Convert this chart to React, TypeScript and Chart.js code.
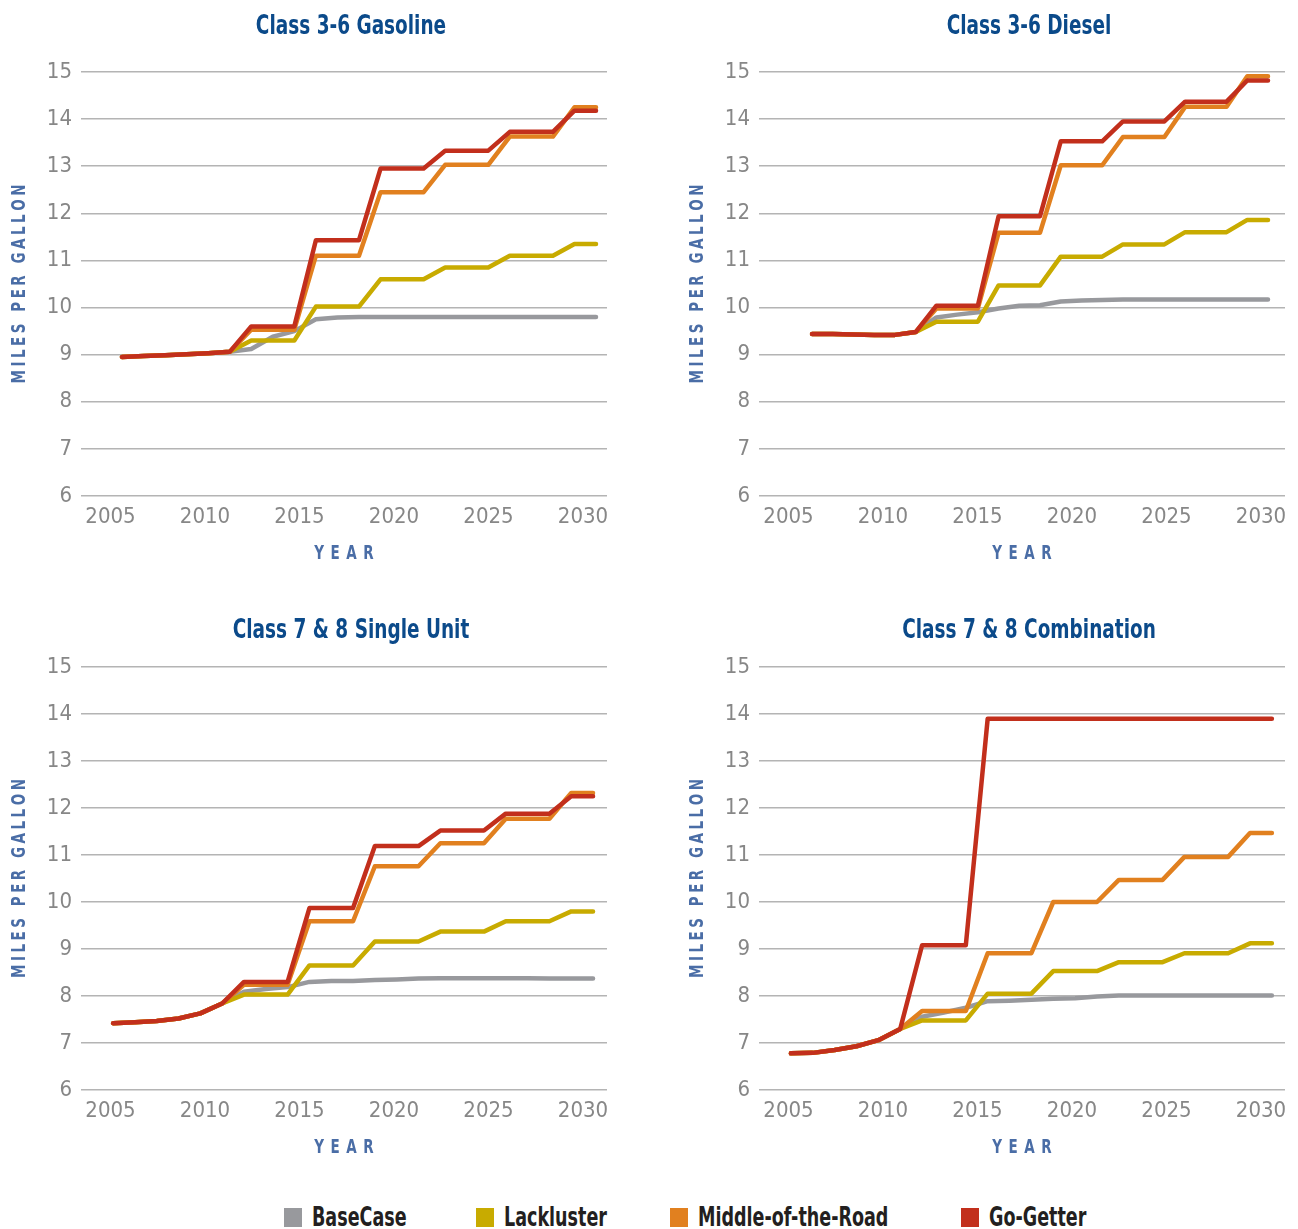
import React, { useEffect, useRef } from "react";
import { Chart, registerables } from "chart.js";

Chart.register(...registerables);

// ---------- data ----------
const years = [2008, 2009, 2010, 2011, 2012, 2013, 2014, 2015, 2016, 2017, 2018, 2019, 2020, 2021, 2022, 2023, 2024, 2025, 2026, 2027, 2028, 2029, 2030];
const tickYears = [2005, 2010, 2015, 2020, 2025, 2030];
const yTicks = [6, 7, 8, 9, 10, 11, 12, 13, 14, 15];

const seriesNames = ["BaseCase", "Lackluster", "Middle-of-the-Road", "Go-Getter"];
const seriesColors = ["#98999d", "#c8ab00", "#e1801f", "#c22f1c"];

const panelTitles = ["Class 3-6 Gasoline", "Class 3-6 Diesel", "Class 7 & 8 Single Unit", "Class 7 & 8 Combination"];
const yAxisTitle = "MILES PER GALLON";
const xAxisTitle = "YEAR";

// Class 3-6 Gasoline
const gasBase = [8.95, 8.97, 8.99, 9.01, 9.03, 9.06, 9.12, 9.38, 9.5, 9.75, 9.79, 9.8, 9.8, 9.8, 9.8, 9.8, 9.8, 9.8, 9.8, 9.8, 9.8, 9.8, 9.8];
const gasLack = [8.95, 8.97, 8.99, 9.01, 9.03, 9.06, 9.3, 9.3, 9.3, 10.02, 10.02, 10.02, 10.6, 10.6, 10.6, 10.85, 10.85, 10.85, 11.1, 11.1, 11.1, 11.35, 11.35];
const gasMid = [8.95, 8.97, 8.99, 9.01, 9.03, 9.06, 9.53, 9.53, 9.53, 11.1, 11.1, 11.1, 12.45, 12.45, 12.45, 13.03, 13.03, 13.03, 13.63, 13.63, 13.63, 14.25, 14.25];
const gasGo = [8.95, 8.97, 8.99, 9.01, 9.03, 9.06, 9.6, 9.6, 9.6, 11.43, 11.43, 11.43, 12.95, 12.95, 12.95, 13.33, 13.33, 13.33, 13.73, 13.73, 13.73, 14.18, 14.18];

// Class 3-6 Diesel
const dslBase = [9.44, 9.44, 9.43, 9.42, 9.42, 9.48, 9.79, 9.85, 9.9, 9.98, 10.04, 10.05, 10.13, 10.15, 10.16, 10.17, 10.17, 10.17, 10.17, 10.17, 10.17, 10.17, 10.17];
const dslLack = [9.44, 9.44, 9.43, 9.42, 9.42, 9.48, 9.7, 9.7, 9.7, 10.47, 10.47, 10.47, 11.08, 11.08, 11.08, 11.34, 11.34, 11.34, 11.6, 11.6, 11.6, 11.86, 11.86];
const dslMid = [9.44, 9.44, 9.43, 9.42, 9.42, 9.48, 9.98, 9.98, 9.98, 11.59, 11.59, 11.59, 13.02, 13.02, 13.02, 13.62, 13.62, 13.62, 14.26, 14.26, 14.26, 14.91, 14.91];
const dslGo = [9.44, 9.44, 9.43, 9.42, 9.42, 9.48, 10.04, 10.04, 10.04, 11.94, 11.94, 11.94, 13.53, 13.53, 13.53, 13.95, 13.95, 13.95, 14.37, 14.37, 14.37, 14.82, 14.82];

// Class 7 & 8 Single Unit
const suBase = [7.42, 7.44, 7.47, 7.52, 7.63, 7.84, 8.09, 8.15, 8.19, 8.3, 8.32, 8.32, 8.34, 8.35, 8.37, 8.38, 8.38, 8.38, 8.38, 8.38, 8.37, 8.37, 8.37];
const suLack = [7.42, 7.44, 7.47, 7.52, 7.63, 7.84, 8.03, 8.03, 8.03, 8.65, 8.65, 8.65, 9.16, 9.16, 9.16, 9.37, 9.37, 9.37, 9.59, 9.59, 9.59, 9.8, 9.8];
const suMid = [7.42, 7.44, 7.47, 7.52, 7.63, 7.84, 8.24, 8.24, 8.24, 9.59, 9.59, 9.59, 10.76, 10.76, 10.76, 11.25, 11.25, 11.25, 11.77, 11.77, 11.77, 12.32, 12.32];
const suGo = [7.42, 7.44, 7.47, 7.52, 7.63, 7.84, 8.3, 8.3, 8.3, 9.87, 9.87, 9.87, 11.19, 11.19, 11.19, 11.52, 11.52, 11.52, 11.88, 11.88, 11.88, 12.25, 12.25];

// Class 7 & 8 Combination
const cbBase = [6.78, 6.79, 6.85, 6.93, 7.06, 7.3, 7.56, 7.65, 7.75, 7.89, 7.9, 7.92, 7.94, 7.95, 7.99, 8.01, 8.01, 8.01, 8.01, 8.01, 8.01, 8.01, 8.01];
const cbLack = [6.78, 6.79, 6.85, 6.93, 7.06, 7.3, 7.48, 7.48, 7.48, 8.05, 8.05, 8.05, 8.53, 8.53, 8.53, 8.72, 8.72, 8.72, 8.91, 8.91, 8.91, 9.12, 9.12];
const cbMid = [6.78, 6.79, 6.85, 6.93, 7.06, 7.3, 7.68, 7.68, 7.68, 8.91, 8.91, 8.91, 10.0, 10.0, 10.0, 10.47, 10.47, 10.47, 10.96, 10.96, 10.96, 11.47, 11.47];
const cbGo = [6.78, 6.79, 6.85, 6.93, 7.06, 7.3, 9.08, 9.08, 9.08, 13.9, 13.9, 13.9, 13.9, 13.9, 13.9, 13.9, 13.9, 13.9, 13.9, 13.9, 13.9, 13.9, 13.9];

const panelSeries = [
  [gasBase, gasLack, gasMid, gasGo],
  [dslBase, dslLack, dslMid, dslGo],
  [suBase, suLack, suMid, suGo],
  [cbBase, cbLack, cbMid, cbGo],
];

// ---------- layout / style ----------
const FONT = '"Liberation Sans Narrow", "DejaVu Sans Condensed", "Arial Narrow", sans-serif';
const TITLE_COLOR = "#0b4a8a";
const AXIS_TITLE_COLOR = "#4a6da6";
const TICK_COLOR = "#878787";
const GRID_COLOR = "#b4b4b4";

const CANVAS_W = 620;
const CANVAS_H = 590;

const panelLayout = [
  { left: 0, top: 0, padTop: 72, titleY: 27, xMin: 2006.1, xMax: 2030.51 },
  { left: 678, top: 0, padTop: 72, titleY: 27, xMin: 2005.44, xMax: 2030.82 },
  { left: 0, top: 594, padTop: 73, titleY: 37, xMin: 2006.53, xMax: 2030.64 },
  { left: 678, top: 594, padTop: 73, titleY: 37, xMin: 2006.54, xMax: 2030.6 },
];

const legendX = [284, 476, 670, 961];

// draw text horizontally condensed by sx, with extra spacing sp between letters, centred on (cx, cy)
function drawCondensed(ctx: any, text: string, cx: number, cy: number, sx: number, sp: number) {
  const chars = Array.from(text);
  const widths = chars.map((c) => ctx.measureText(c).width * sx);
  const total = widths.reduce((a, b) => a + b, 0) + sp * (chars.length - 1);
  let x = cx - total / 2;
  ctx.textAlign = "left";
  ctx.textBaseline = "middle";
  chars.forEach((c, i) => {
    ctx.save();
    ctx.translate(x, cy);
    ctx.scale(sx, 1);
    ctx.fillText(c, 0, 0);
    ctx.restore();
    x += widths[i] + sp;
  });
}

const decorPlugin = {
  id: "decor",
  afterDraw(chart: any, _args: any, opts: any) {
    const { ctx, chartArea } = chart;
    const cx = (chartArea.left + chartArea.right) / 2;
    const cy = (chartArea.top + chartArea.bottom) / 2;
    ctx.save();
    // panel title
    ctx.fillStyle = TITLE_COLOR;
    ctx.font = `bold 26px ${FONT}`;
    ctx.textAlign = "center";
    ctx.textBaseline = "middle";
    ctx.save();
    ctx.translate(cx + 7, opts.titleY);
    ctx.scale(0.79, 1);
    ctx.fillText(opts.title, 0, 0);
    ctx.restore();
    // axis titles
    ctx.fillStyle = AXIS_TITLE_COLOR;
    ctx.font = `bold 20px ${FONT}`;
    drawCondensed(ctx, xAxisTitle, cx, chartArea.bottom + 58, 0.75, 6.5);
    ctx.save();
    ctx.translate(chartArea.left - 61, cy);
    ctx.rotate(-Math.PI / 2);
    drawCondensed(ctx, yAxisTitle, 0, 0, 0.75, 3.5);
    ctx.restore();
    ctx.restore();
  },
};

function Panel({ index }: { index: number }) {
  const ref = useRef<HTMLCanvasElement | null>(null);
  useEffect(() => {
    if (!ref.current) return;
    const lay = panelLayout[index];
    const series = panelSeries[index];
    const datasets = series.map((vals, si) => ({
      label: seriesNames[si],
      data: years.map((yr, i) => ({ x: yr, y: vals[i] })),
      borderColor: seriesColors[si],
      backgroundColor: seriesColors[si],
      borderWidth: 4.5,
      pointRadius: 0,
      pointHoverRadius: 0,
      tension: 0,
      fill: false,
      borderCapStyle: "round",
      borderJoinStyle: "round",
      order: 3 - si,
    }));
    const chart = new Chart(ref.current, {
      type: "line",
      data: { datasets } as any,
      plugins: [decorPlugin],
      options: {
        animation: false,
        responsive: false,
        devicePixelRatio: 1,
        layout: { padding: { top: lay.padTop, right: 13, bottom: 0, left: 0 } },
        plugins: {
          legend: { display: false },
          title: { display: false },
          tooltip: { enabled: false },
          decor: { title: panelTitles[index], titleY: lay.titleY },
        } as any,
        scales: {
          x: {
            type: "linear",
            display: false,
            min: lay.xMin,
            max: lay.xMax,
          },
          x2: {
            type: "linear",
            position: "bottom",
            min: 2003.44,
            max: 2031.27,
            grid: { display: false, drawTicks: false },
            border: { display: false },
            afterBuildTicks: (scale: any) => {
              scale.ticks = tickYears.map((v) => ({ value: v }));
            },
            afterFit: (scale: any) => {
              scale.height = 94;
            },
            ticks: {
              autoSkip: false,
              maxRotation: 0,
              padding: 8,
              color: TICK_COLOR,
              font: { family: FONT, size: 22 },
              callback: (v: any) => String(v),
            },
          },
          y: {
            type: "linear",
            min: 6,
            max: 15,
            afterBuildTicks: (scale: any) => {
              scale.ticks = yTicks.map((v) => ({ value: v }));
            },
            afterFit: (scale: any) => {
              scale.width = 81;
            },
            grid: { color: GRID_COLOR, lineWidth: 1.6, drawTicks: false },
            border: { display: false },
            ticks: {
              padding: 9,
              color: TICK_COLOR,
              font: { family: FONT, size: 22 },
              callback: (v: any) => String(v),
            },
          },
        } as any,
      },
    } as any);
    return () => chart.destroy();
  }, [index]);
  const lay = panelLayout[index];
  return (
    <canvas
      ref={ref}
      width={CANVAS_W}
      height={CANVAS_H}
      style={{ position: "absolute", left: lay.left, top: lay.top, width: CANVAS_W, height: CANVAS_H }}
    />
  );
}

export default function App() {
  return (
    <div style={{ position: "absolute", left: 0, top: 0, width: 1298, height: 1229, background: "#ffffff", overflow: "hidden" }}>
      {[0, 1, 2, 3].map((i) => (
        <Panel key={i} index={i} />
      ))}
      {seriesNames.map((name, i) => (
        <div
          key={name}
          style={{
            position: "absolute",
            left: legendX[i],
            top: 1203,
            height: 28,
            display: "flex",
            alignItems: "center",
            whiteSpace: "nowrap",
          }}
        >
          <span style={{ display: "inline-block", width: 18, height: 19, background: seriesColors[i], marginRight: 10 }} />
          <span
            style={{
              display: "inline-block",
              fontFamily: FONT,
              fontWeight: "bold",
              fontSize: 26,
              color: "#231f20",
              lineHeight: "28px",
              transform: "scaleX(0.75)",
              transformOrigin: "left center",
            }}
          >
            {name}
          </span>
        </div>
      ))}
    </div>
  );
}
